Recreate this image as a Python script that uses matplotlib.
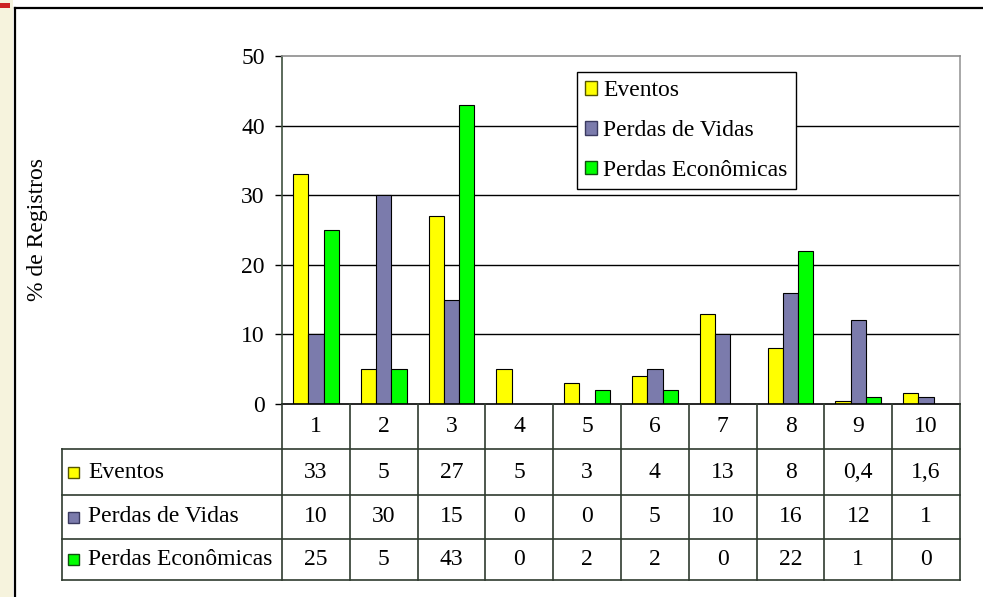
import numpy as np
import matplotlib.pyplot as plt
from matplotlib.patches import Patch, Rectangle

plt.rcParams['font.family'] = ['Liberation Serif', 'DejaVu Serif']

# data
categories = ["1", "2", "3", "4", "5", "6", "7", "8", "9", "10"]
series_names = ["Eventos", "Perdas de Vidas", "Perdas Econômicas"]
eventos = [33, 5, 27, 5, 3, 4, 13, 8, 0.4, 1.6]
perdas_vidas = [10, 30, 15, 0, 0, 5, 10, 16, 12, 1]
perdas_econ = [25, 5, 43, 0, 2, 2, 0, 22, 1, 0]
y_ticks = [0, 10, 20, 30, 40, 50]

colors = ["#FFFF00", "#7B7BAC", "#00FF00"]
edges = ["#555500", "#3A3A60", "#105010"]
FS = 17

W, H = 983, 597
fig = plt.figure(figsize=(W / 100, H / 100), dpi=100)
fig.patch.set_facecolor("white")

# pixel positions of the plot
L, R, T, B = 282, 960, 56, 404
colw = (R - L) / len(categories)

# left cream strip and frame
fig.patches.append(Rectangle((0, 0), 13 / W, 1, transform=fig.transFigure,
                             facecolor="#F6F3DD", edgecolor="none"))
fig.patches.append(Rectangle((0, 1 - 8 / H), 10 / W, 5 / H, transform=fig.transFigure,
                             facecolor="#CC2222", edgecolor="none"))
fig.add_artist(plt.Line2D([15 / W, 1], [1 - 8 / H, 1 - 8 / H], color="black", lw=1.6,
                          transform=fig.transFigure))
fig.add_artist(plt.Line2D([15 / W, 15 / W], [0, 1 - 8 / H], color="black", lw=1.6,
                          transform=fig.transFigure))

ax = fig.add_axes([L / W, 1 - B / H, (R - L) / W, (B - T) / H])
ax.set_xlim(0, len(categories))
ax.set_ylim(0, 50)
ax.set_yticks(y_ticks)
ax.set_xticks([])
ax.tick_params(axis="y", length=5, width=1, labelsize=FS, pad=7.5, colors="black")
for yv in y_ticks[1:-1]:
    ax.axhline(yv, color="black", lw=1, zorder=0)

x = np.arange(len(categories)) + 0.5
w = 0.225
for i, vals in enumerate([eventos, perdas_vidas, perdas_econ]):
    ax.bar(x + (i - 1) * w, vals, width=w, color=colors[i], edgecolor="black",
           linewidth=0.8, zorder=2)

ax.spines["top"].set_color("#8C8C8C")
ax.spines["right"].set_color("#9A9A9A")
ax.spines["left"].set_color("#3F523F")
ax.spines["bottom"].set_color("black")
for s in ax.spines.values():
    s.set_linewidth(1.2)

handles = [Patch(facecolor=c, edgecolor=e, linewidth=1) for c, e in zip(colors, edges)]
leg = ax.legend(handles, series_names, loc="upper left",
                bbox_to_anchor=(577 / W, 1 - 72 / H), bbox_transform=fig.transFigure,
                fontsize=FS, frameon=True, fancybox=False, framealpha=1,
                edgecolor="black", handlelength=0.5, handleheight=0.5,
                handletextpad=0.25, labelspacing=0.8, borderpad=0.35,
                borderaxespad=0)
leg.get_frame().set_linewidth(1)

# data table under the chart
TL = 62
rows_y = [404, 449, 495, 539, 580]
tax = fig.add_axes([TL / W, 1 - rows_y[-1] / H, (R - TL) / W, (rows_y[-1] - rows_y[0]) / H])
tax.set_xlim(-(L - TL) / colw, len(categories))
tax.set_ylim(rows_y[-1], rows_y[0])
tax.axis("off")

lc = "#2F3B2F"
for k in range(len(categories) + 1):
    tax.plot([k, k], [rows_y[0], rows_y[-1]], color=lc, lw=1.2, clip_on=False)
lbl_x0 = -(L - TL) / colw
for yy in rows_y[1:]:
    tax.plot([lbl_x0, len(categories)], [yy, yy], color=lc, lw=1.2, clip_on=False)
tax.plot([lbl_x0, lbl_x0], [rows_y[1], rows_y[-1]], color=lc, lw=1.2, clip_on=False)

for k, c in enumerate(categories):
    tax.text(k + 0.5, (rows_y[0] + rows_y[1]) / 2, c, ha="center", va="center", fontsize=FS)

def fmt(v):
    return f"{v:g}".replace(".", ",")

for r, (name, vals) in enumerate(zip(series_names, [eventos, perdas_vidas, perdas_econ])):
    yc = (rows_y[r + 1] + rows_y[r + 2]) / 2
    sq = 11 / colw
    tax.add_patch(Rectangle((lbl_x0 + 6 / colw, yc - 5.5), sq, 11, facecolor=colors[r],
                            edgecolor=edges[r], lw=1, clip_on=False))
    tax.text(lbl_x0 + 26 / colw, yc, name, ha="left", va="center", fontsize=FS)
    for k, v in enumerate(vals):
        tax.text(k + 0.5, yc, fmt(v), ha="center", va="center", fontsize=FS)

fig.text(37 / W, 1 - 229.5 / H, "% de Registros", rotation=90, ha="center", va="center",
         fontsize=FS)

fig.savefig("out.png", dpi=100)
